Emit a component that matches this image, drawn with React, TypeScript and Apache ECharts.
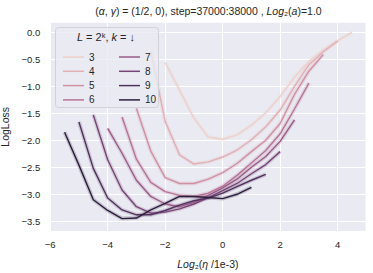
import React, { useEffect, useRef } from 'react';
import * as echarts from 'echarts';

const K_VALUES = [3, 4, 5, 6, 7, 8, 9, 10];
const LOG2_LR = [-5.5, -5, -4.5, -4, -3.5, -3, -2.5, -2, -1.5, -1, -0.5, 0, 0.5, 1, 1.5, 2, 2.5, 3, 3.5, 4, 4.5];
const START_INDEX = [7, 6, 5, 4, 3, 2, 1, 0];

const LOSS_K3 = [-0.56, -1.07, -1.59, -1.94, -1.98, -1.90, -1.72, -1.49, -1.19, -0.83, -0.54, -0.33, -0.16, 0.0];
const LOSS_K4 = [-0.35, -1.65, -2.27, -2.44, -2.40, -2.31, -2.18, -1.99, -1.75, -1.44, -1.0, -0.6, -0.36, -0.16];
const LOSS_K5 = [-1.41, -2.2, -2.69, -2.80, -2.80, -2.72, -2.60, -2.43, -2.21, -2.0, -1.69, -1.15, -0.72, -0.41];
const LOSS_K6 = [-1.57, -2.35, -2.78, -2.95, -3.02, -3.04, -2.98, -2.85, -2.65, -2.42, -2.19, -1.88, -1.42, -0.94];
const LOSS_K7 = [-1.78, -2.24, -2.74, -3.04, -3.18, -3.23, -3.15, -3.02, -2.88, -2.72, -2.5, -2.3, -2.02, -1.62];
const LOSS_K8 = [-1.53, -2.36, -2.92, -3.23, -3.35, -3.33, -3.27, -3.18, -3.06, -2.93, -2.80, -2.62, -2.45, -2.21];
const LOSS_K9 = [-1.66, -2.52, -3.07, -3.29, -3.38, -3.38, -3.30, -3.20, -3.12, -3.07, -2.98, -2.86, -2.74, -2.63];
const LOSS_K10 = [-1.85, -2.46, -3.10, -3.30, -3.45, -3.44, -3.29, -3.17, -3.04, -3.04, -3.06, -3.08, -3.00, -2.87];
const LOSS = [LOSS_K3, LOSS_K4, LOSS_K5, LOSS_K6, LOSS_K7, LOSS_K8, LOSS_K9, LOSS_K10];

const COLORS = ['#edd1cb', '#e1b0b4', '#cf91a3', '#b87496', '#9a5b88', '#774576', '#51315e', '#2d1e3e'];
const X_TICKS = [-6, -4, -2, 0, 2, 4];
const Y_TICKS = [-3.5, -3, -2.5, -2, -1.5, -1, -0.5, 0];

const FONT = '"Liberation Sans", Arial, "DejaVu Sans", sans-serif';
const TXT = '#262626';
const minus = (s: string) => s.replace('-', '\u2212');

export default function App() {
  const ref = useRef<HTMLDivElement>(null);
  useEffect(() => {
    if (!ref.current) return;
    const chart = echarts.init(ref.current, undefined, { renderer: 'svg' });
    const series: any[] = [];
    K_VALUES.forEach((k, i) => {
      const data = LOSS[i].map((v, j) => [LOG2_LR[START_INDEX[i] + j], v]);
      series.push({
        name: 'band' + k,
        type: 'line',
        data,
        symbol: 'none',
        silent: true,
        legendHoverLink: false,
        lineStyle: { color: COLORS[i], width: 4, opacity: 0.2 },
        z: 1,
      });
    });
    K_VALUES.forEach((k, i) => {
      const data = LOSS[i].map((v, j) => [LOG2_LR[START_INDEX[i] + j], v]);
      series.push({
        name: String(k),
        type: 'line',
        data,
        symbol: 'none',
        color: COLORS[i],
        lineStyle: { color: COLORS[i], width: 1.4 },
        z: 2 + i * 0.01,
      });
    });
    const legendCommon = {
      orient: 'vertical',
      top: 47,
      itemWidth: 21,
      itemHeight: 10,
      itemGap: 4.3,
      icon: 'path://M0,4.25 L21,4.25 L21,5.75 L0,5.75 Z',
      textStyle: { fontSize: 10, color: TXT, fontFamily: FONT },
      z: 6,
    };
    chart.setOption({
      animation: false,
      textStyle: { fontFamily: FONT },
      grid: {
        left: 50.2,
        right: 7.5,
        top: 22.7,
        bottom: 42,
        show: true,
        containLabel: false,
        outerBoundsMode: 'none',
        backgroundColor: '#eaeaf2',
        borderWidth: 0,
      },
      xAxis: {
        type: 'value',
        min: -6,
        max: 4.97,
        axisLine: { show: false },
        axisTick: { show: false, customValues: X_TICKS },
        axisLabel: {
          customValues: X_TICKS,
          fontSize: 9.5,
          color: TXT,
          margin: 8,
          formatter: (v: number) => minus(String(v)),
        },
        splitLine: { show: true, lineStyle: { color: '#ffffff', width: 1 } },
        name: '{i|Log}\u2082({i|\u03b7} /1e-3)',
        nameLocation: 'middle',
        nameGap: 27,
        nameTextStyle: {
          fontSize: 10.5,
          color: TXT,
          fontFamily: FONT,
          rich: { i: { fontStyle: 'italic', fontSize: 10.5, color: TXT, fontFamily: FONT } },
        },
      },
      yAxis: {
        type: 'value',
        min: -3.68,
        max: 0.178,
        axisLine: { show: false },
        axisTick: { show: false, customValues: Y_TICKS },
        axisLabel: {
          customValues: Y_TICKS,
          fontSize: 9.5,
          color: TXT,
          margin: 10,
          formatter: (v: number) => minus(v.toFixed(1)),
        },
        splitLine: { show: true, lineStyle: { color: '#ffffff', width: 1 } },
        name: 'LogLoss',
        nameLocation: 'middle',
        nameGap: 30,
        nameTextStyle: { fontSize: 10.5, color: TXT, fontFamily: FONT },
      },
      legend: [
        { ...legendCommon, left: 58, data: ['3', '4', '5', '6'] },
        { ...legendCommon, left: 114, data: ['7', '8', '9', '10'] },
      ],
      graphic: [
        {
          type: 'rect',
          z: 5,
          shape: { x: 55.5, y: 27.5, width: 103, height: 80, r: 3 },
          style: { fill: 'rgba(234,234,242,0.8)', stroke: '#d2d2da', lineWidth: 1 },
        },
        {
          type: 'text',
          z: 6,
          x: 106,
          y: 37,
          style: {
            text: '{i|L} = 2\u1d4f, {i|k} = \u2193',
            fontSize: 11,
            fill: TXT,
            fontFamily: FONT,
            align: 'center',
            verticalAlign: 'middle',
            rich: { i: { fontStyle: 'italic', fontSize: 11, fill: TXT, fontFamily: FONT } },
          },
        },
        {
          type: 'text',
          z: 6,
          x: 208.5,
          y: 11,
          style: {
            text: '({i|\u03b1}, {i|\u03b3}) = (1/2, 0), step=37000:38000 , {i|Log}\u2082({i|a})=1.0',
            fontSize: 10.5,
            fill: TXT,
            fontFamily: FONT,
            align: 'center',
            verticalAlign: 'middle',
            rich: { i: { fontStyle: 'italic', fontSize: 10.5, fill: TXT, fontFamily: FONT } },
          },
        },
      ],
      series,
    });
    return () => chart.dispose();
  }, []);
  return <div ref={ref} style={{ position: 'absolute', left: 0, top: 0, width: 373, height: 273 }} />;
}
